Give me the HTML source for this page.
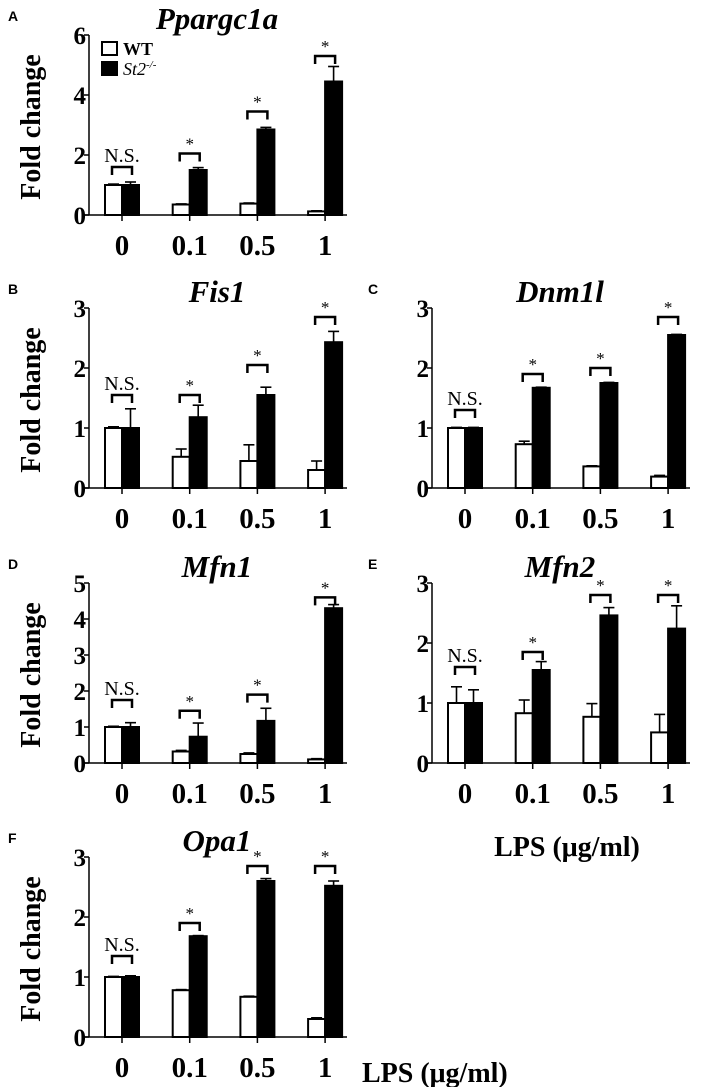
<!DOCTYPE html>
<html><head><meta charset="utf-8"><style>
html,body{margin:0;padding:0;background:#fff;}
svg{display:block;}
</style></head><body>
<svg id="fig" width="708" height="1087" viewBox="0 0 708 1087" font-family="Liberation Serif, serif"></svg>
<script>
const doses = ["0","0.1","0.5","1"];
const wtA = [1.0,0.35,0.38,0.12], wtAErr=[0.03,0.02,0.02,0.02];
const koA = [1.0,1.5,2.85,4.45], koAErr=[0.1,0.08,0.07,0.5];
const sigA = ["N.S.","*","*","*"], brA=[1.6,2.05,3.45,5.3];
const wtB = [1.0,0.52,0.45,0.3], wtBErr=[0.02,0.13,0.27,0.15];
const koB = [1.0,1.18,1.55,2.43], koBErr=[0.32,0.2,0.13,0.18];
const sigB = ["N.S.","*","*","*"], brB=[1.55,1.55,2.05,2.85];
const wtC = [1.0,0.73,0.36,0.19], wtCErr=[0.01,0.05,0.01,0.02];
const koC = [1.0,1.67,1.75,2.55], koCErr=[0.01,0.01,0.01,0.01];
const sigC = ["N.S.","*","*","*"], brC=[1.3,1.9,2.0,2.85];
const wtD = [1.0,0.32,0.25,0.1], wtDErr=[0.02,0.03,0.03,0.02];
const koD = [1.0,0.73,1.17,4.3], koDErr=[0.12,0.38,0.35,0.1];
const sigD = ["N.S.","*","*","*"], brD=[1.75,1.45,1.9,4.6];
const wtE = [1.0,0.83,0.77,0.51], wtEErr=[0.27,0.22,0.22,0.3];
const koE = [1.0,1.55,2.46,2.24], koEErr=[0.22,0.14,0.13,0.38];
const sigE = ["N.S.","*","*","*"], brE=[1.6,1.85,2.8,2.8];
const wtF = [1.0,0.78,0.67,0.3], wtFErr=[0.01,0.01,0.01,0.02];
const koF = [1.0,1.68,2.6,2.52], koFErr=[0.02,0.01,0.04,0.08];
const sigF = ["N.S.","*","*","*"], brF=[1.35,1.9,2.85,2.85];
const ticksA=[0,2,4,6], ticks3=[0,1,2,3], ticks5=[0,1,2,3,4,5];

const NS="http://www.w3.org/2000/svg";
const svg=document.getElementById('fig');
function el(tag,attrs,parent,txt){const e=document.createElementNS(NS,tag);for(const k in attrs)e.setAttribute(k,attrs[k]);if(txt!==undefined)e.textContent=txt;(parent||svg).appendChild(e);return e;}

function panel(o){
  const g=el('g',{});
  
  
  const ax=o.ax, base=o.base, top=base-180, ymax=o.ticks[o.ticks.length-1];
  const y=v=>base-(v/ymax)*180;
  const x=i=>ax+33+i*67.7;
  const lt=el('text',{x:o.letterX,y:top-14,style:'font-family:"Liberation Sans",sans-serif;font-weight:bold;font-size:14px'},g,o.letter);
  
  
  const t=el('text',{x:ax+128,y:top-6,'text-anchor':'middle','font-weight':'bold','font-style':'italic','font-size':31},g,o.title);
  
  
  if(o.ylabel){const yl=el('text',{transform:`translate(40,${base-88}) rotate(-90)`,'text-anchor':'middle','font-weight':'bold','font-size':28},g,'Fold change');
    
    }
  for(let i=0;i<4;i++){
    const cx=x(i);
    [[o.wt[i],o.wtE[i],cx-17,'#fff','wt'],[o.ko[i],o.koE[i],cx,'#000','ko']].forEach(([v,e,bx,fill,nm])=>{
      const ey=y(v+e);
      const eb=el('line',{x1:bx+8.5,x2:bx+8.5,y1:y(v),y2:ey,stroke:'#000','stroke-width':1.6},g);
      
      
      const cap=el('line',{x1:bx+3,x2:bx+14,y1:ey,y2:ey,stroke:'#000','stroke-width':1.6},g);
      
      
      const r=el('rect',{x:bx,y:y(v),width:17,height:base-y(v),fill:fill,stroke:'#000','stroke-width':2},g);
      
      
    });
    const by=y(o.br[i]);
    const b=el('path',{d:`M${cx-10},${by+8}V${by}H${cx+10}V${by+8}`,fill:'none',stroke:'#000','stroke-width':2.5},g);
    
    
    const s=el('text',{x:cx,y:o.sig[i]==='*'?by-4:by-5,'text-anchor':'middle','font-size':o.sig[i]==='*'?17:20},g,o.sig[i]);
    
    
    const tk=el('line',{x1:cx,x2:cx,y1:base,y2:base+6,stroke:'#000','stroke-width':1.5},g);
    
    
    const xl=el('text',{x:cx,y:base+40,'text-anchor':'middle','font-weight':'bold','font-size':29},g,doses[i]);
    
    
  }
  const a1=el('line',{x1:ax,x2:ax,y1:top,y2:base,stroke:'#000','stroke-width':1.5},g);
  
  
  const a2=el('line',{x1:ax-5,x2:ax+258,y1:base,y2:base,stroke:'#000','stroke-width':1.5},g);
  
  
  o.ticks.forEach(tv=>{
    const ty=y(tv);
    const l=el('line',{x1:ax-5,x2:ax,y1:ty,y2:ty,stroke:'#000','stroke-width':1.5},g);
    
    
    const tl=el('text',{x:ax-3,y:ty+9,'text-anchor':'end','font-weight':'bold','font-size':25},g,String(tv));
    
    
  });
}
panel({letter:'A',letterX:8,ax:89,base:215,title:'Ppargc1a',ticks:ticksA,wt:wtA,wtE:wtAErr,ko:koA,koE:koAErr,sig:sigA,br:brA,ylabel:true});
panel({letter:'B',letterX:8,ax:89,base:488,title:'Fis1',ticks:ticks3,wt:wtB,wtE:wtBErr,ko:koB,koE:koBErr,sig:sigB,br:brB,ylabel:true});
panel({letter:'C',letterX:368,ax:432,base:488,title:'Dnm1l',ticks:ticks3,wt:wtC,wtE:wtCErr,ko:koC,koE:koCErr,sig:sigC,br:brC,ylabel:false});
panel({letter:'D',letterX:8,ax:89,base:763,title:'Mfn1',ticks:ticks5,wt:wtD,wtE:wtDErr,ko:koD,koE:koDErr,sig:sigD,br:brD,ylabel:true});
panel({letter:'E',letterX:368,ax:432,base:763,title:'Mfn2',ticks:ticks3,wt:wtE,wtE:wtEErr,ko:koE,koE:koEErr,sig:sigE,br:brE,ylabel:false});
panel({letter:'F',letterX:8,ax:89,base:1037,title:'Opa1',ticks:ticks3,wt:wtF,wtE:wtFErr,ko:koF,koE:koFErr,sig:sigF,br:brF,ylabel:true});

const lg=el('g',{});


const r1=el('rect',{x:102,y:42,width:15,height:13,fill:'#fff',stroke:'#000','stroke-width':2},lg);


const r2=el('rect',{x:102,y:62,width:15,height:13,fill:'#000',stroke:'#000','stroke-width':2},lg);


const t1=el('text',{x:123,y:55,'font-weight':'bold','font-size':18},lg,'WT');


const t2=el('text',{x:123,y:75,'font-style':'italic','font-size':18},lg);


el('tspan',{},t2,'St2');
el('tspan',{dy:-7,'font-size':11},t2,'-/-');

const l1=el('text',{x:567,y:856,'text-anchor':'middle','font-weight':'bold','font-size':28},svg,'LPS (μg/ml)');


const l2=el('text',{x:362,y:1082,'font-weight':'bold','font-size':28},svg,'LPS (μg/ml)');


</script>
</body></html>
